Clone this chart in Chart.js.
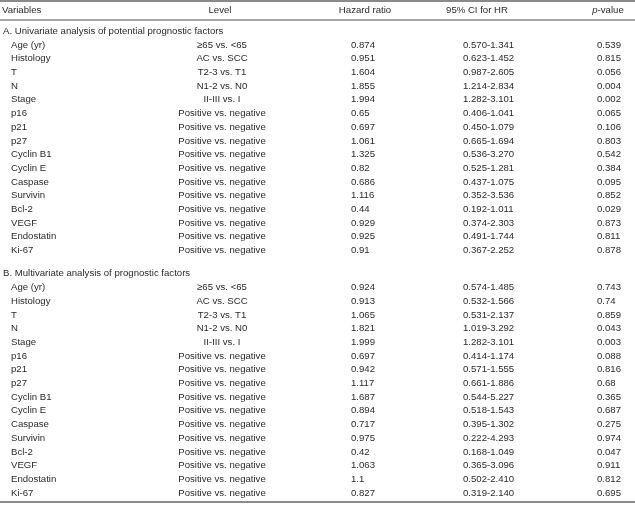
<!DOCTYPE html>
<html>
<head>
<meta charset="utf-8">
<script src="https://cdn.jsdelivr.net/npm/chart.js@4"></script>
<style>
  html, body { margin: 0; padding: 0; background: #fff; }
  #wrap { width: 635px; height: 506px; position: relative; }
</style>
</head>
<body>
<div id="wrap"><canvas id="tbl"></canvas></div>
<script>
const headers = ['Variables', 'Level', 'Hazard ratio', '95% CI for HR', 'p-value'];
const sections = ['A. Univariate analysis of potential prognostic factors', 'B. Multivariate analysis of prognostic factors'];
const variables = ['Age (yr)', 'Histology', 'T', 'N', 'Stage', 'p16', 'p21', 'p27', 'Cyclin B1', 'Cyclin E', 'Caspase', 'Survivin', 'Bcl-2', 'VEGF', 'Endostatin', 'Ki-67'];
const levels = ['\u226565 vs. <65', 'AC vs. SCC', 'T2-3 vs. T1', 'N1-2 vs. N0', 'II-III vs. I',
    'Positive vs. negative', 'Positive vs. negative', 'Positive vs. negative', 'Positive vs. negative',
    'Positive vs. negative', 'Positive vs. negative', 'Positive vs. negative', 'Positive vs. negative',
    'Positive vs. negative', 'Positive vs. negative', 'Positive vs. negative'];

// univariate
const uniHR = [0.874, 0.951, 1.604, 1.855, 1.994, 0.65, 0.697, 1.061, 1.325, 0.82, 0.686, 1.116, 0.44, 0.929, 0.925, 0.91];
const uniCI = ['0.570-1.341', '0.623-1.452', '0.987-2.605', '1.214-2.834', '1.282-3.101', '0.406-1.041', '0.450-1.079', '0.665-1.694',
    '0.536-3.270', '0.525-1.281', '0.437-1.075', '0.352-3.536', '0.192-1.011', '0.374-2.303', '0.491-1.744', '0.367-2.252'];
const uniP = [0.539, 0.815, 0.056, 0.004, 0.002, 0.065, 0.106, 0.803, 0.542, 0.384, 0.095, 0.852, 0.029, 0.873, 0.811, 0.878];

// multivariate
const multiHR = [0.924, 0.913, 1.065, 1.821, 1.999, 0.697, 0.942, 1.117, 1.687, 0.894, 0.717, 0.975, 0.42, 1.063, 1.1, 0.827];
const multiCI = ['0.574-1.485', '0.532-1.566', '0.531-2.137', '1.019-3.292', '1.282-3.101', '0.414-1.174', '0.571-1.555', '0.661-1.886',
    '0.544-5.227', '0.518-1.543', '0.395-1.302', '0.222-4.293', '0.168-1.049', '0.365-3.096', '0.502-2.410', '0.319-2.140'];
const multiP = [0.743, 0.74, 0.859, 0.043, 0.003, 0.088, 0.816, 0.68, 0.365, 0.687, 0.275, 0.974, 0.047, 0.911, 0.812, 0.695];

const font = '9.6px "Liberation Sans", Arial, sans-serif';
const ink = '#2b2b2b';
const rule = '#8a8a8a';

// row layout in row units (y scale)
const secARow = 1.53;
const firstA = 2.55;
const secBRow = firstA + variables.length - 1 + 1.68;
const firstB = secBRow + 1.02;

const tablePlugin = {
    id: 'tablePlugin',
    afterDraw(chart) {
        const ctx = chart.ctx;
        const x = chart.scales.x, y = chart.scales.y;
        ctx.save();
        ctx.font = font;
        ctx.fillStyle = ink;
        ctx.textBaseline = 'middle';

        function txt(s, col, row, align) {
            ctx.textAlign = align || 'left';
            ctx.fillText(String(s), x.getPixelForValue(col), y.getPixelForValue(row));
        }
        function hline(row, w) {
            const py = y.getPixelForValue(row);
            ctx.beginPath();
            ctx.strokeStyle = rule;
            ctx.lineWidth = w;
            ctx.moveTo(x.left, py);
            ctx.lineTo(x.right, py);
            ctx.stroke();
        }

        hline(-0.66, 2);
        hline(0.73, 1.5);
        hline(35.9, 2);

        // header
        txt(headers[0], 2, 0);
        txt(headers[1], 220, 0, 'center');
        txt(headers[2], 365, 0, 'center');
        txt(headers[3], 477, 0, 'center');
        // p-value with italic p
        const pv = headers[4];
        ctx.font = 'italic ' + font;
        const wp = ctx.measureText(pv[0]).width;
        ctx.font = font;
        const wr = ctx.measureText(pv.slice(1)).width;
        const start = x.getPixelForValue(608) - (wp + wr) / 2;
        ctx.textAlign = 'left';
        ctx.font = 'italic ' + font;
        ctx.fillText(pv[0], start, y.getPixelForValue(0));
        ctx.font = font;
        ctx.fillText(pv.slice(1), start + wp, y.getPixelForValue(0));

        function block(title, titleRow, first, hr, ci, p) {
            txt(title, 3, titleRow);
            variables.forEach((v, i) => {
                const r = first + i;
                txt(v, 11, r);
                txt(levels[i], 222, r, 'center');
                txt(hr[i], 351, r);
                txt(ci[i], 463, r);
                txt(p[i], 597, r);
            });
        }
        block(sections[0], secARow, firstA, uniHR, uniCI, uniP);
        block(sections[1], secBRow, firstB, multiHR, multiCI, multiP);
        ctx.restore();
    }
};

new Chart(document.getElementById('tbl'), {
    type: 'scatter',
    data: { datasets: [] },
    options: {
        responsive: true,
        maintainAspectRatio: false,
        animation: false,
        layout: { padding: 0 },
        plugins: {
            legend: { display: false },
            tooltip: { enabled: false }
        },
        scales: {
            x: { type: 'linear', min: 0, max: 635, display: false },
            y: { type: 'linear', min: -0.73, max: 36.2, reverse: true, display: false }
        }
    },
    plugins: [tablePlugin]
});
</script>
</body>
</html>
